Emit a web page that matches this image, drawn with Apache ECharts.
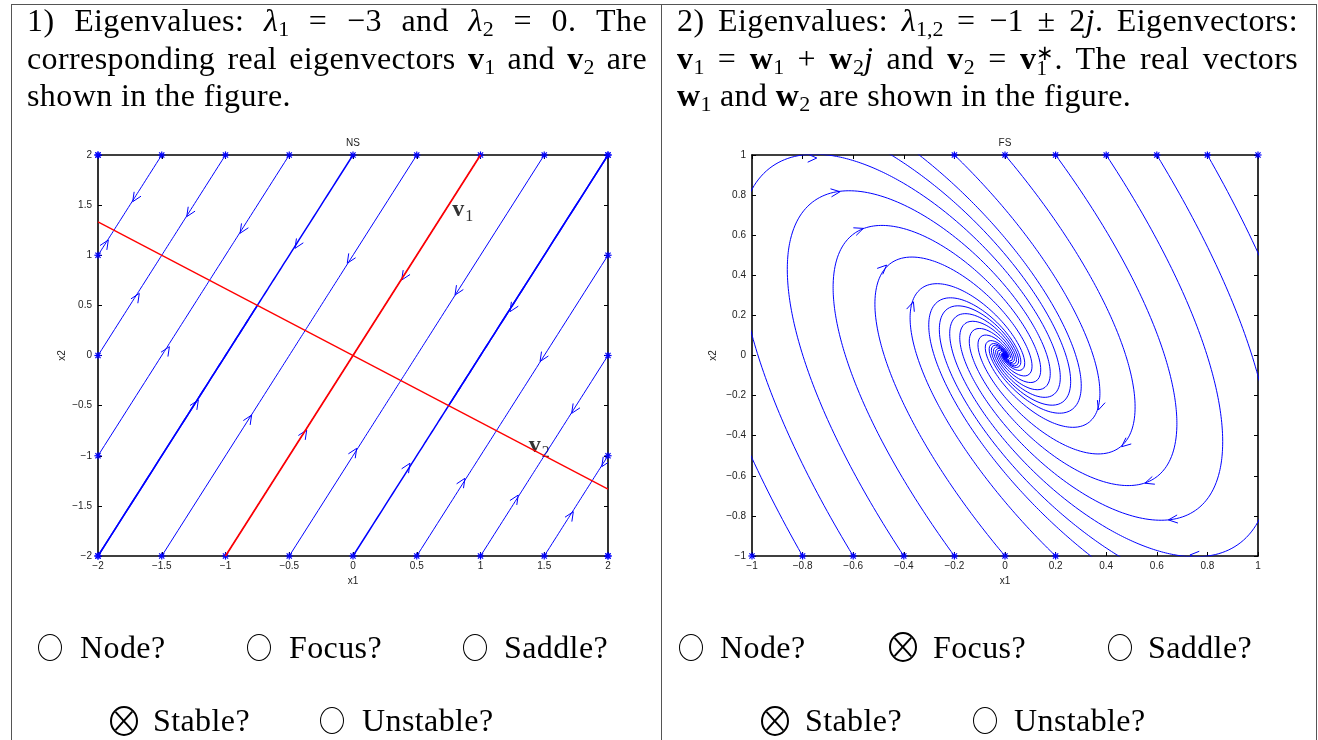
<!DOCTYPE html>
<html>
<head>
<meta charset="utf-8">
<script src="https://cdn.jsdelivr.net/npm/echarts@6/dist/echarts.min.js"></script>
<style>
html, body { margin: 0; padding: 0; background: #fff; }
#page { position: relative; width: 1318px; height: 740px; overflow: hidden; font-family: "Liberation Serif", serif; color: #000; }
#chart { position: absolute; left: 0; top: 0; width: 1318px; height: 740px; }
.vl { position: absolute; top: 4px; height: 740px; width: 1px; background: #555; }
.hl { position: absolute; left: 11px; width: 1306px; top: 4px; height: 1px; background: #555; }
.ln { position: absolute; font-size: 32px; line-height: 37.5px; white-space: nowrap; letter-spacing: 0.4px; }
.just { text-align: justify; text-align-last: justify; white-space: normal; }
.sb { font-size: 22px; vertical-align: -5px; line-height: 0; letter-spacing: 0; }
.stk { display: inline-block; font-size: 21px; line-height: 15px; vertical-align: -6px; letter-spacing: 0; }
.rc { position: absolute; width: 24px; height: 27px; border: 1.2px solid #000; border-radius: 50%; box-sizing: border-box; }
.rx { position: absolute; width: 28px; height: 30px; border: 2.4px solid #000; border-radius: 50%; box-sizing: border-box; }
.rx::before, .rx::after { content: ""; position: absolute; left: 50%; top: 50%; width: 2.3px; height: 25px; background: #000; }
.rx::before { transform: translate(-50%, -50%) rotate(42deg); }
.rx::after { transform: translate(-50%, -50%) rotate(-42deg); }
</style>
</head>
<body>
<div id="page">
  <div id="chart"></div>

  <div class="hl"></div>
  <div class="vl" style="left:11px"></div>
  <div class="vl" style="left:661px"></div>
  <div class="vl" style="left:1316px"></div>

  <div class="ln just" style="left:27px;top:1.5px;width:620px">1) Eigenvalues: <i>λ</i><span class="sb">1</span> = −3 and <i>λ</i><span class="sb">2</span> = 0. The</div>
  <div class="ln just" style="left:27px;top:39.5px;width:620px">corresponding real eigenvectors <b>v</b><span class="sb">1</span> and <b>v</b><span class="sb">2</span> are</div>
  <div class="ln" style="left:27px;top:77px">shown in the figure.</div>

  <div class="ln just" style="left:677px;top:1.5px;width:621px">2) Eigenvalues: <i>λ</i><span class="sb">1,2</span> = −1 ± 2<i>j</i>. Eigenvectors:</div>
  <div class="ln just" style="left:677px;top:39.5px;width:621px"><b>v</b><span class="sb">1</span> = <b>w</b><span class="sb">1</span> + <b>w</b><span class="sb">2</span><i>j</i> and <b>v</b><span class="sb">2</span> = <b>v</b><span class="stk">∗<br>1</span>. The real vectors</div>
  <div class="ln" style="left:677px;top:77px"><b>w</b><span class="sb">1</span> and <b>w</b><span class="sb">2</span> are shown in the figure.</div>

  <div class="rc" style="left:38px;top:634px"></div><div class="ln" style="left:80px;top:628.5px">Node?</div>
  <div class="rc" style="left:247px;top:634px"></div><div class="ln" style="left:289px;top:628.5px">Focus?</div>
  <div class="rc" style="left:463px;top:634px"></div><div class="ln" style="left:504px;top:628.5px">Saddle?</div>
  <div class="rx" style="left:110px;top:706px"></div><div class="ln" style="left:153px;top:701.5px">Stable?</div>
  <div class="rc" style="left:320px;top:707px"></div><div class="ln" style="left:362px;top:701.5px">Unstable?</div>

  <div class="rc" style="left:679px;top:634px"></div><div class="ln" style="left:720px;top:628.5px">Node?</div>
  <div class="rx" style="left:889px;top:632px"></div><div class="ln" style="left:933px;top:628.5px">Focus?</div>
  <div class="rc" style="left:1108px;top:634px"></div><div class="ln" style="left:1148px;top:628.5px">Saddle?</div>
  <div class="rx" style="left:761px;top:706px"></div><div class="ln" style="left:805px;top:701.5px">Stable?</div>
  <div class="rc" style="left:973px;top:707px"></div><div class="ln" style="left:1014px;top:701.5px">Unstable?</div>
</div>

<script>
// ---- case 1: node with a line of equilibria (NS) ----
const nsMatrix = [[-0.75, -1.125], [-1.5, -2.25]];   // lambda1 = -3 (v1), lambda2 = 0 (v2)
const nsTopX = [-2, -1.5, -1, -0.5, 0, 0.5, 1, 1.5, 2];     // start points on y = 2
const nsBottomX = [-2, -1.5, -1, -0.5, 0, 0.5, 1, 1.5, 2];  // start points on y = -2
const nsLeftY = [-2, -1, 0, 1, 2];                          // start points on x = -2
const nsRightY = [-2, -1, 0, 1, 2];                         // start points on x = 2
const nsHeavyStarts = [[-2, -2], [0, 2], [0, -2], [2, 2]];  // these two lines look heavier
const nsV1Line = [[-1, -2], [1, 2]];
const nsV2Line = [[-2, 1.333], [2, -1.333]];
const nsArrowPts = [
    [-1.728, 1.534], [-1.919, 1.152], [-1.304, 1.385], [-1.676, 0.62], [-0.886, 1.219],
    [-1.44, 0.088], [-0.455, 1.069], [-0.045, 0.92], [-1.213, -0.444], [-0.795, -0.594],
    [-0.363, -0.743], [0.382, 0.753], [0.8, 0.603], [1.231, 0.437], [1.467, -0.06],
    [0.029, -0.926], [0.447, -1.075], [0.878, -1.225], [1.296, -1.392], [1.715, -0.577],
    [1.728, -1.558], [1.951, -1.109]
];
const nsLabels = [['v', '1', 0.86, 1.45], ['v', '2', 1.46, -0.9]];

// ---- case 2: stable focus (FS) ----
const fsMatrix = [[1, 2], [-4, -3]];   // lambda = -1 +/- 2j
const fsTopX = [-0.2, 0, 0.2, 0.4, 0.6, 0.8, 1];      // start points on y = 1
const fsBottomX = [-1, -0.8, -0.6, -0.4, -0.2, 0, 0.2]; // start points on y = -1
const fsArrowPts = [
    [-0.744, 0.985], [-0.652, 0.817], [-0.56, 0.634], [-0.468, 0.451], [-0.362, 0.268],
    [0.369, -0.272], [0.461, -0.455], [0.553, -0.637], [0.646, -0.82], [0.731, -0.995]
];

const BLUE = '#0000ff';
const RED = '#ff0000';

function field(m, p) {
    return [m[0][0] * p[0] + m[0][1] * p[1], m[1][0] * p[0] + m[1][1] * p[1]];
}

// trajectory of x' = A x from p0 (RK4)
function trajectory(m, p0, tEnd, dt) {
    const pts = [p0.slice()];
    let p = p0.slice();
    for (let t = 0; t < tEnd; t += dt) {
        const k1 = field(m, p);
        const k2 = field(m, [p[0] + dt / 2 * k1[0], p[1] + dt / 2 * k1[1]]);
        const k3 = field(m, [p[0] + dt / 2 * k2[0], p[1] + dt / 2 * k2[1]]);
        const k4 = field(m, [p[0] + dt * k3[0], p[1] + dt * k3[1]]);
        p = [p[0] + dt / 6 * (k1[0] + 2 * k2[0] + 2 * k3[0] + k4[0]),
             p[1] + dt / 6 * (k1[1] + 2 * k2[1] + 2 * k3[1] + k4[1])];
        pts.push(p);
    }
    return pts;
}

const nsStarts = [].concat(
    nsTopX.map(x => [x, 2]), nsBottomX.map(x => [x, -2]),
    nsLeftY.map(y => [-2, y]), nsRightY.map(y => [2, y])
);
const fsStarts = [].concat(fsTopX.map(x => [x, 1]), fsBottomX.map(x => [x, -1]));

function starItem(params, api) {
    const p = api.coord([api.value(0), api.value(1)]);
    const r = 3.6, d = 2.6;
    const segs = [[-r, 0, r, 0], [0, -r, 0, r], [-d, -d, d, d], [-d, d, d, -d]];
    return {
        type: 'group',
        children: segs.map(s => ({
            type: 'line',
            shape: { x1: p[0] + s[0], y1: p[1] + s[1], x2: p[0] + s[2], y2: p[1] + s[3] },
            style: { stroke: BLUE, lineWidth: 1.2 }
        }))
    };
}

function arrowRenderer(m) {
    return function (params, api) {
        const x = api.value(0), y = api.value(1);
        const v = field(m, [x, y]);
        const p = api.coord([x, y]);
        const q = api.coord([x + v[0] * 1e-3, y + v[1] * 1e-3]);
        let dx = q[0] - p[0], dy = q[1] - p[1];
        const len = Math.hypot(dx, dy);
        dx /= len; dy /= len;
        const L = 10, a = 24 * Math.PI / 180, c = Math.cos(a), s = Math.sin(a);
        const bx = -dx, by = -dy;
        const w1 = [p[0] + L * (bx * c - by * s), p[1] + L * (bx * s + by * c)];
        const w2 = [p[0] + L * (bx * c + by * s), p[1] + L * (-bx * s + by * c)];
        return {
            type: 'polyline',
            shape: { points: [w1, p, w2] },
            style: { stroke: BLUE, fill: null, lineWidth: 1 }
        };
    };
}

const minus = v => String(v).replace('-', '\u2212');
const labelFont = { fontFamily: 'Liberation Sans', fontSize: 10, color: '#222' };

function bottomAxis(gi, min, max, step) {
    return {
        gridIndex: gi, type: 'value', position: 'bottom', min: min, max: max, interval: step,
        name: 'x1', nameLocation: 'middle', nameGap: 19,
        nameTextStyle: { fontFamily: 'Liberation Sans', fontSize: 10, color: '#222' },
        axisLine: { onZero: false, lineStyle: { color: '#000', width: 1.6 } },
        axisTick: { inside: true, length: 4, lineStyle: { color: '#000', width: 1 } },
        axisLabel: Object.assign({ margin: 5, formatter: minus }, labelFont),
        splitLine: { show: false }
    };
}
function topAxis(gi, min, max, step, title) {
    return {
        gridIndex: gi, type: 'value', position: 'top', min: min, max: max, interval: step,
        name: title, nameLocation: 'middle', nameGap: 7,
        nameTextStyle: { fontFamily: 'Liberation Sans', fontSize: 10, color: '#222' },
        axisLine: { onZero: false, lineStyle: { color: '#000', width: 1.6 } },
        axisTick: { inside: true, length: 4, lineStyle: { color: '#000', width: 1 } },
        axisLabel: { show: false },
        splitLine: { show: false }
    };
}
function leftAxis(gi, min, max, step, gap) {
    return {
        gridIndex: gi, type: 'value', position: 'left', min: min, max: max, interval: step,
        name: 'x2', nameLocation: 'middle', nameGap: gap,
        nameTextStyle: { fontFamily: 'Liberation Sans', fontSize: 10, color: '#222' },
        axisLine: { onZero: false, lineStyle: { color: '#000', width: 1.6 } },
        axisTick: { inside: true, length: 4, lineStyle: { color: '#000', width: 1 } },
        axisLabel: Object.assign({ margin: 6, formatter: minus }, labelFont),
        splitLine: { show: false }
    };
}
function rightAxis(gi, min, max, step) {
    return {
        gridIndex: gi, type: 'value', position: 'right', min: min, max: max, interval: step,
        axisLine: { onZero: false, lineStyle: { color: '#000', width: 1.6 } },
        axisTick: { inside: true, length: 4, lineStyle: { color: '#000', width: 1 } },
        axisLabel: { show: false },
        splitLine: { show: false }
    };
}

const isHeavy = p0 => nsHeavyStarts.some(h => h[0] === p0[0] && h[1] === p0[1]);
const series = [];

nsStarts.forEach(p0 => {
    series.push({
        type: 'line', xAxisIndex: 0, yAxisIndex: 0, data: trajectory(nsMatrix, p0, 4, 0.02),
        showSymbol: false, clip: true, silent: true,
        lineStyle: { color: BLUE, width: isHeavy(p0) ? 1.5 : 1 }
    });
});
series.push({
    type: 'line', xAxisIndex: 0, yAxisIndex: 0, data: nsV1Line, showSymbol: false, clip: true,
    lineStyle: { color: RED, width: 1.7 }
});
series.push({
    type: 'line', xAxisIndex: 0, yAxisIndex: 0, data: nsV2Line, showSymbol: false, clip: true,
    lineStyle: { color: RED, width: 1.3 }
});
series.push({
    type: 'custom', xAxisIndex: 0, yAxisIndex: 0, data: nsArrowPts, clip: true,
    renderItem: arrowRenderer(nsMatrix)
});
series.push({
    type: 'custom', xAxisIndex: 0, yAxisIndex: 0, data: nsStarts, clip: false,
    renderItem: starItem
});
series.push({
    type: 'scatter', xAxisIndex: 0, yAxisIndex: 0, symbolSize: 0,
    data: nsLabels.map(l => ({ value: [l[2], l[3]], name: l[0], sub: l[1] })),
    label: {
        show: true, position: 'inside',
        formatter: p => '{b|' + p.data.name + '}{s|' + p.data.sub + '}',
        rich: {
            b: { fontFamily: 'Liberation Serif', fontWeight: 'bold', fontSize: 24, color: '#000' },
            s: { fontFamily: 'Liberation Serif', fontSize: 16, color: '#000', padding: [14, 0, 0, 1] }
        }
    }
});

fsStarts.forEach(p0 => {
    series.push({
        type: 'line', xAxisIndex: 2, yAxisIndex: 2, data: trajectory(fsMatrix, p0, 7, 0.006),
        showSymbol: false, clip: true, silent: true,
        lineStyle: { color: BLUE, width: 1 }
    });
});
series.push({
    type: 'custom', xAxisIndex: 2, yAxisIndex: 2, data: fsArrowPts, clip: true,
    renderItem: arrowRenderer(fsMatrix)
});
series.push({
    type: 'custom', xAxisIndex: 2, yAxisIndex: 2, data: fsStarts, clip: false,
    renderItem: starItem
});

const chart = echarts.init(document.getElementById('chart'), null, { renderer: 'canvas' });
chart.setOption({
    animation: false,
    backgroundColor: '#fff',
    grid: [
        { left: 98, top: 155, width: 510, height: 401, outerBoundsMode: 'none' },
        { left: 752, top: 155, width: 506, height: 401, outerBoundsMode: 'none' }
    ],
    xAxis: [
        bottomAxis(0, -2, 2, 0.5), topAxis(0, -2, 2, 0.5, 'NS'),
        bottomAxis(1, -1, 1, 0.2), topAxis(1, -1, 1, 0.2, 'FS')
    ],
    yAxis: [
        leftAxis(0, -2, 2, 0.5, 31), rightAxis(0, -2, 2, 0.5),
        leftAxis(1, -1, 1, 0.2, 34), rightAxis(1, -1, 1, 0.2)
    ],
    series: series
});
</script>
</body>
</html>
